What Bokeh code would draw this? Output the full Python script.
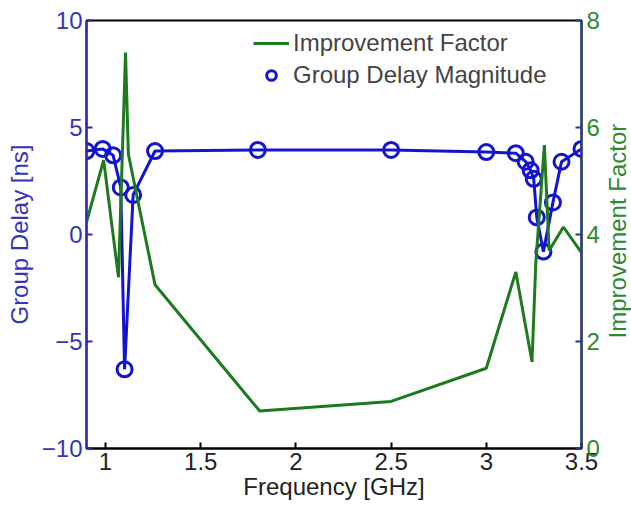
from bokeh.plotting import figure
from bokeh.layouts import row
from bokeh.models import Range1d, LinearAxis, FixedTicker, Legend, LegendItem, Label
from bokeh.embed import file_html
from bokeh.resources import INLINE
import math

# Group delay magnitude (left axis, ns)
freq_gd = [0.90, 0.985, 1.04, 1.08, 1.10, 1.145, 1.26, 1.80, 2.50, 3.00,
           3.155, 3.207, 3.233, 3.249, 3.265, 3.30, 3.35, 3.395, 3.50]
group_delay = [3.9, 4.0, 3.7, 2.2, -6.3, 1.85, 3.9, 3.95, 3.95, 3.85,
               3.8, 3.4, 3.0, 2.6, 0.8, -0.8, 1.5, 3.4, 4.0]

# Improvement factor (right axis)
freq_if = [0.90, 0.99, 1.068, 1.105, 1.12, 1.26, 1.81, 2.50, 3.00, 3.155,
           3.24, 3.26, 3.305, 3.33, 3.405, 3.50]
improvement = [4.23, 5.39, 3.2, 7.4, 5.5, 3.06, 0.7, 0.88, 1.5, 3.3,
               1.62, 3.47, 5.67, 3.7, 4.14, 3.66]

x_ticks = [1, 1.5, 2, 2.5, 3, 3.5]
left_ticks = [-10, -5, 0, 5, 10]
right_ticks = [0, 2, 4, 6, 8]

BLUE = "#1414d0"
GREEN = "#1f7a1f"
LBLUE = "#3535b5"
LGREEN = "#2f8a2f"
FONT = "Liberation Sans"
FS = "24px"

p = figure(width=605, height=512, output_backend="svg", toolbar_location=None,
           x_range=Range1d(0.9, 3.5), y_range=Range1d(-10, 10),
           min_border_left=86, min_border_right=24, min_border_top=20,
           min_border_bottom=64)
p.xgrid.visible = False
p.ygrid.visible = False
p.outline_line_color = "black"
p.outline_line_width = 2
p.background_fill_color = "white"
p.extra_y_ranges = {"if": Range1d(0, 8)}

# bottom axis
xa = p.xaxis[0]
xa.ticker = FixedTicker(ticks=x_ticks)
xa.axis_label = "Frequency [GHz]"
xa.axis_line_color = "black"
xa.axis_line_width = 2
xa.major_tick_in = 6
xa.major_tick_out = 0
xa.major_tick_line_width = 2
xa.minor_tick_line_color = None
xa.major_label_text_font = FONT
xa.major_label_text_font_size = FS
xa.major_label_text_color = "#222222"
xa.axis_label_text_font = FONT
xa.axis_label_text_font_size = FS
xa.axis_label_text_font_style = "normal"
xa.axis_label_text_color = "#222222"
xa.major_label_standoff = 4
xa.axis_label_standoff = 0

# left axis
ya = p.yaxis[0]
ya.ticker = FixedTicker(ticks=left_ticks)
ya.axis_label = "Group Delay [ns]"
ya.axis_line_color = "#2a2aa8"
ya.axis_line_width = 2
ya.major_tick_in = 6
ya.major_tick_out = 0
ya.major_tick_line_width = 2
ya.major_tick_line_color = "#2a2aa8"
ya.minor_tick_line_color = None
ya.major_label_text_font = FONT
ya.major_label_text_font_size = FS
ya.major_label_text_color = LBLUE
ya.axis_label_text_font = FONT
ya.axis_label_text_font_size = FS
ya.axis_label_text_font_style = "normal"
ya.axis_label_text_color = LBLUE
ya.major_label_standoff = 4
ya.axis_label_standoff = 6

# right axis (its title is drawn in a narrow side panel so it reads bottom-to-top)
ra = LinearAxis(y_range_name="if", ticker=FixedTicker(ticks=right_ticks))
ra.axis_line_color = "#1f3a8a"
ra.axis_line_width = 2
ra.major_tick_in = 6
ra.major_tick_out = 0
ra.major_tick_line_width = 2
ra.major_tick_line_color = "#1f3a8a"
ra.minor_tick_line_color = None
ra.major_label_text_font = FONT
ra.major_label_text_font_size = FS
ra.major_label_text_color = LGREEN
ra.major_label_standoff = 5
p.add_layout(ra, "right")

# series
p.line(freq_gd, group_delay, line_color=BLUE, line_width=3)
circ = p.scatter(freq_gd, group_delay, marker="circle", size=15,
                 fill_color=None, line_color=BLUE, line_width=3)
gl = p.line(freq_if, improvement, line_color=GREEN, line_width=3, y_range_name="if")

legend = Legend(items=[LegendItem(label="Improvement Factor", renderers=[gl]),
                       LegendItem(label="Group Delay Magnitude", renderers=[circ])],
                location=(167, 359), border_line_color=None,
                background_fill_alpha=0, label_text_font=FONT,
                label_text_font_size=FS, glyph_width=36, glyph_height=24,
                label_height=24, spacing=4, padding=6, label_standoff=4)
p.add_layout(legend)

# side panel holding the right-axis title
side = figure(width=26, height=512, output_backend="svg", toolbar_location=None,
              x_range=Range1d(0, 1), y_range=Range1d(0, 1),
              x_axis_type=None, y_axis_type=None,
              min_border_left=0, min_border_right=0, min_border_top=0,
              min_border_bottom=0)
side.xgrid.visible = False
side.ygrid.visible = False
side.outline_line_color = None
side.background_fill_color = "white"
side.add_layout(Label(text="Improvement Factor", x=0.46, y=0.508,
                      angle=math.pi / 2, text_align="center",
                      text_baseline="middle", text_font=FONT,
                      text_font_size=FS, text_color=LGREEN))

layout = row(p, side, spacing=0)
open("out.html", "w").write(file_html(layout, INLINE))
